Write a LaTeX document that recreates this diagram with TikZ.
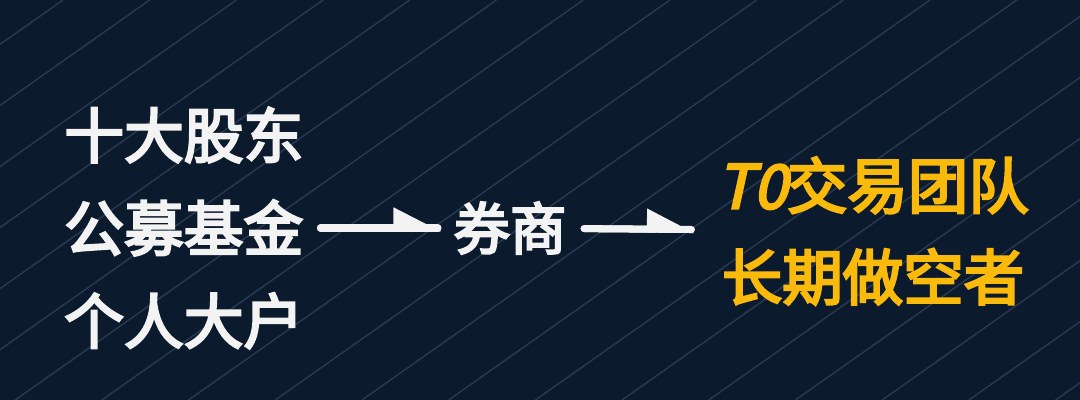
\documentclass[tikz,border=0pt]{standalone}
\usepackage{fontspec}
\usetikzlibrary{arrows.meta}
\newfontfamily\cjk{Noto Sans CJK SC}[FakeBold=4]
\newfontfamily\cjkslant{Noto Sans CJK SC}[FakeSlant=0.22, FakeBold=4]
\definecolor{bgnavy}{RGB}{11,26,45}
\definecolor{stripeblue}{RGB}{40,58,82}
\definecolor{textwhite}{RGB}{243,243,243}
\definecolor{tamber}{RGB}{250,186,12}
\begin{document}
\begin{tikzpicture}[x=0.025cm, y=-0.025cm,
  stripe/.style={stripeblue, line width=1pt},
  label/.style={inner sep=0pt, text=textwhite, font=\cjk\fontsize{42.5pt}{66pt}\selectfont},
  shaft/.style={textwhite, line width=5pt, line cap=round},
  flow/.style={shaft, -{Triangle[harpoon, length=29pt, width=28pt]}}]
\fill [bgnavy] (0,0) rectangle (1080,400);
\begin{scope}
\clip (0,0) rectangle (1080,400);
\foreach \k in {-1,...,18}
  \draw [stripe] (63+86.7*\k,0) -- ++(-568,400);
\end{scope}

\node[label, anchor=west, align=left] (holders) at (64,228) {十大股东\\公募基金\\个人大户};
\node[label, font=\cjk\fontsize{40pt}{48pt}\selectfont] (broker) at (510,228) {券商};
\node[label, text=tamber, align=center, font=\cjk\fontsize{43pt}{65pt}\selectfont] (shorts) at (873,231) {{\cjkslant T0}交易团队\\长期做空者};

% shaft under the harpoon head
\draw [shaft, shorten <=12pt, shorten >=11pt] (holders) -- (broker);
\draw [flow, shorten <=12pt, shorten >=8.5pt] (holders) -- (broker);
\draw [shaft, shorten <=12.5pt, shorten >=18.1pt] (broker) -- (shorts);
\draw [flow, shorten <=12.5pt, shorten >=15.6pt] (broker) -- (shorts);
\end{tikzpicture}
\end{document}
